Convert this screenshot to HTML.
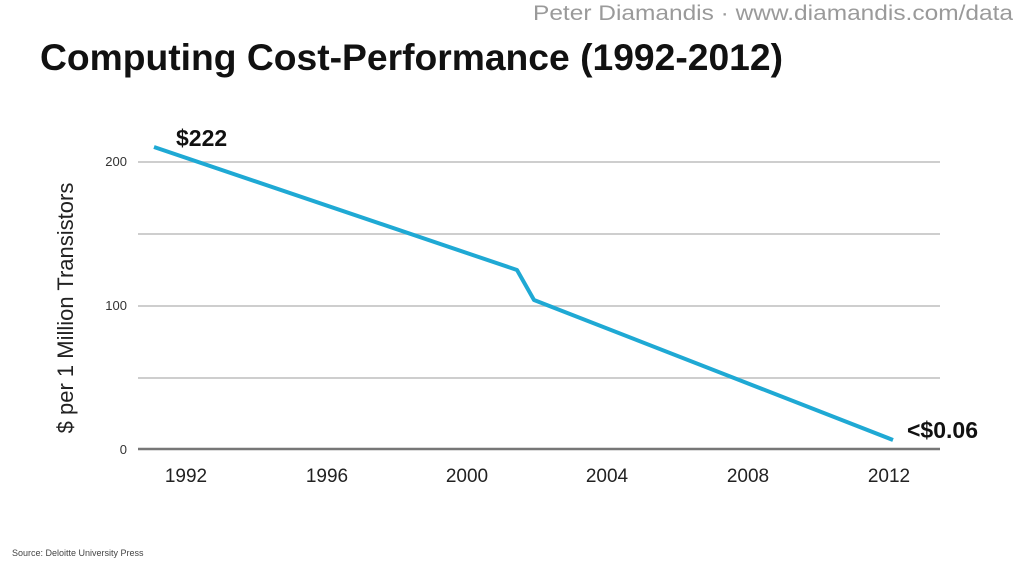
<!DOCTYPE html>
<html><head><meta charset="utf-8"><style>
html,body{margin:0;padding:0;background:#fff;width:1024px;height:576px;overflow:hidden}
</style></head><body>
<svg width="1024" height="576" xmlns="http://www.w3.org/2000/svg" font-family="'Liberation Sans',sans-serif">
<text x="533" y="20" textLength="480" lengthAdjust="spacingAndGlyphs" font-size="21" fill="#9a9a9a">Peter Diamandis · www.diamandis.com/data</text>
<text x="40" y="70" textLength="743" lengthAdjust="spacingAndGlyphs" font-size="37" font-weight="bold" fill="#111">Computing Cost-Performance (1992-2012)</text>
<g stroke="#bdbdbd" stroke-width="1.5">
<line x1="138" y1="162" x2="940" y2="162"/>
<line x1="138" y1="234" x2="940" y2="234"/>
<line x1="138" y1="306" x2="940" y2="306"/>
<line x1="138" y1="378" x2="940" y2="378"/>
</g>
<line x1="138" y1="449" x2="940" y2="449" stroke="#777" stroke-width="2.5"/>
<g font-size="13" fill="#333" text-anchor="end">
<text x="127" y="166">200</text><text x="127" y="310">100</text><text x="127" y="454">0</text>
</g>
<g font-size="19" fill="#222" text-anchor="middle">
<text x="186" y="482">1992</text><text x="327" y="482">1996</text><text x="467" y="482">2000</text>
<text x="607" y="482">2004</text><text x="748" y="482">2008</text><text x="889" y="482">2012</text>
</g>
<text transform="translate(73,308) rotate(-90)" text-anchor="middle" font-size="22" fill="#222">$ per 1 Million Transistors</text>
<polyline points="154,147 517,270 534,300 893,440" fill="none" stroke="#1fa9d4" stroke-width="4" stroke-linejoin="round"/>
<text x="176" y="146" font-size="23" font-weight="bold" fill="#111">$222</text>
<text x="907" y="438" font-size="23" font-weight="bold" fill="#111">&lt;$0.06</text>
<text x="12" y="556" font-size="9" fill="#444">Source: Deloitte University Press</text>
</svg>
</body></html>
